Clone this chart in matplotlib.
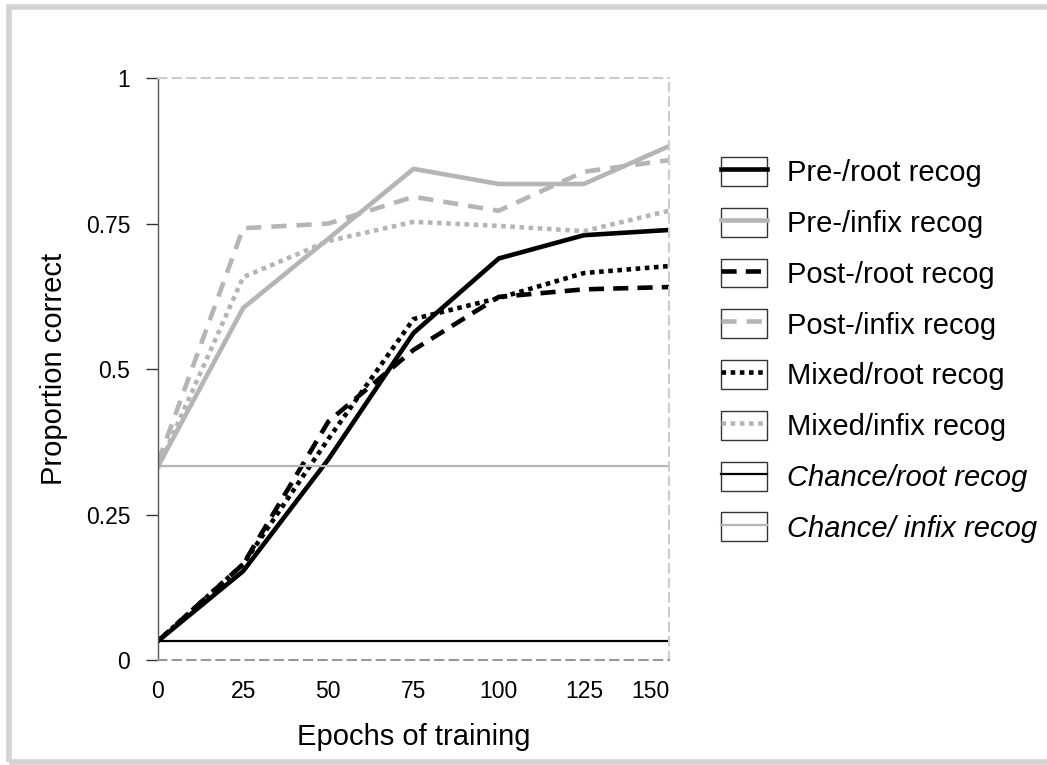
import matplotlib
matplotlib.use("Agg")
import matplotlib.pyplot as plt
from matplotlib.legend_handler import HandlerLine2D
from matplotlib.lines import Line2D
from matplotlib.patches import Rectangle

plt.rcParams["font.family"] = ["Liberation Sans", "DejaVu Sans"]

# Data
epochs = [0, 25, 50, 75, 100, 125, 150]
pre_root = [0.033, 0.153, 0.345, 0.562, 0.690, 0.730, 0.739]
pre_infix = [0.333, 0.605, 0.724, 0.844, 0.818, 0.818, 0.883]
post_root = [0.033, 0.165, 0.410, 0.533, 0.624, 0.637, 0.641]
post_infix = [0.340, 0.742, 0.750, 0.796, 0.772, 0.839, 0.859]
mixed_root = [0.033, 0.165, 0.380, 0.586, 0.622, 0.665, 0.677]
mixed_infix = [0.330, 0.658, 0.720, 0.753, 0.746, 0.737, 0.772]
chance_root = 0.033
chance_infix = 0.333

labels = ["Pre-/root recog", "Pre-/infix recog", "Post-/root recog",
          "Post-/infix recog", "Mixed/root recog", "Mixed/infix recog",
          "Chance/root recog", "Chance/ infix recog"]

GREY = "#b5b5b5"


class BoxedLine(HandlerLine2D):
    """Legend handle: line drawn inside a small box."""

    def create_artists(self, legend, orig_handle, xdescent, ydescent,
                       width, height, fontsize, trans):
        artists = super().create_artists(legend, orig_handle, xdescent,
                                         ydescent, width, height, fontsize,
                                         trans)
        box = Rectangle((-xdescent, -ydescent), width, height, fill=False,
                        edgecolor="#333333", linewidth=1.0, transform=trans)
        return [box] + list(artists)


fig = plt.figure(figsize=(10.47, 7.65), dpi=100)

# grey frame round the picture (open on the right)
fig.patches.append(Rectangle((0.0090, 0.0045), 1.2, 0.987, fill=False,
                             edgecolor="#d3d3d3", linewidth=4,
                             transform=fig.transFigure))

ax = fig.add_axes([0.1509, 0.137, 0.4881, 0.761])

lw = 3.3
ax.plot(epochs, pre_root, color="black", lw=lw, label=labels[0])
ax.plot(epochs, pre_infix, color=GREY, lw=lw, label=labels[1])
ax.plot(epochs, post_root, color="black", lw=lw, dashes=(3.3, 2),
        label=labels[2])
ax.plot(epochs, post_infix, color=GREY, lw=lw, dashes=(3.3, 2.2),
        label=labels[3])
ax.plot(epochs, mixed_root, color="black", lw=lw, dashes=(1, 1),
        label=labels[4])
ax.plot(epochs, mixed_infix, color=GREY, lw=lw, dashes=(1, 1),
        label=labels[5])
ax.plot([epochs[0], epochs[-1]], [chance_root] * 2, color="black", lw=1.6,
        label=labels[6])
ax.plot([epochs[0], epochs[-1]], [chance_infix] * 2, color=GREY, lw=1.6,
        label=labels[7])

ax.set_xlim(0, 150)
ax.set_ylim(0, 1)
ax.set_xticks(epochs)
ax.set_xticklabels([str(e) for e in epochs])
ax.set_yticks([0, 0.25, 0.5, 0.75, 1])
ax.set_yticklabels(["0", "0.25", "0.5", "0.75", "1"])
ax.tick_params(axis="x", length=0, pad=14, labelsize=16.5)
ax.tick_params(axis="y", length=8.5, width=1, color="#333333", pad=11.5,
               labelsize=16.5)
ax.get_xticklabels()[-1].set_horizontalalignment("right")

for side in ["top", "right"]:
    ax.spines[side].set_color("#cccccc")
    ax.spines[side].set_linestyle((0, (4, 3)))
    ax.spines[side].set_linewidth(1.5)
ax.spines["bottom"].set_color("#999999")
ax.spines["bottom"].set_linestyle((0, (4, 3)))
ax.spines["bottom"].set_linewidth(1.5)
ax.spines["left"].set_color("#555555")
ax.spines["left"].set_linewidth(1)

ax.set_xlabel("Epochs of training", fontsize=21)
ax.set_ylabel("Proportion correct", fontsize=21)
ax.xaxis.set_label_coords(0.5, -0.108)
ax.yaxis.set_label_coords(-0.176, 0.5)

leg = fig.legend(handles=ax.get_lines(), labels=labels, loc="upper left",
                 bbox_to_anchor=(721 / 1047, 1 - 157 / 765), frameon=False,
                 fontsize=21, handlelength=1.57, handleheight=1.15,
                 handletextpad=0.7, labelspacing=0.7, borderpad=0,
                 borderaxespad=0,
                 handler_map={Line2D: BoxedLine()})
for t in leg.get_texts()[6:]:
    t.set_style("italic")

fig.savefig("out.png", dpi=100)
